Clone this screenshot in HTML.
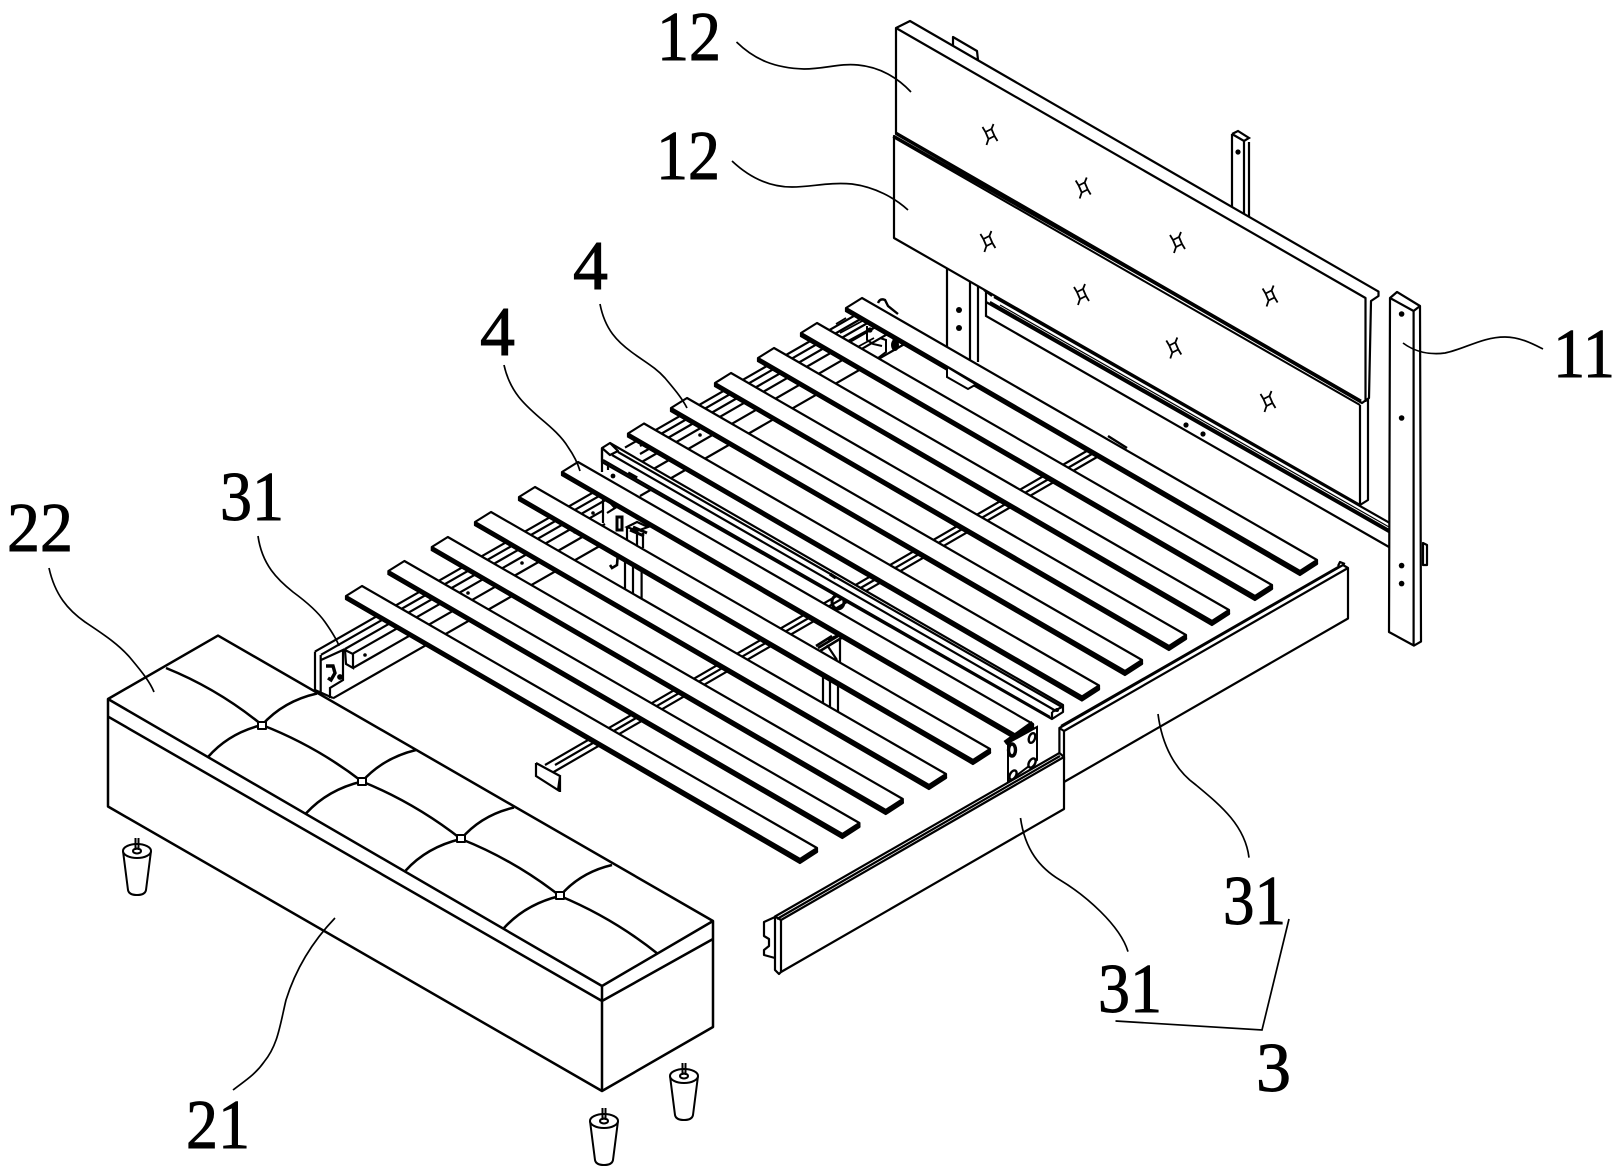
<!DOCTYPE html>
<html><head><meta charset="utf-8"><title>Bed exploded view</title>
<style>html,body{margin:0;padding:0;background:#fff}svg{display:block}
text{font-family:"Liberation Serif",serif;font-size:70px;fill:#000;stroke:#000;stroke-width:.9px}</style></head>
<body>
<svg width="1621" height="1175" viewBox="0 0 1621 1175" xmlns="http://www.w3.org/2000/svg">
<defs>
<g id="slat">
<path d="M0,0L455,262L455,266L438,277L-16,13L-16,10Z" fill="#fff" stroke="#000" stroke-width="2.2" stroke-linejoin="round"/>
<path d="M-16,11.5L438,274.5L455,263.5" fill="none" stroke="#000" stroke-width="4.8" stroke-linejoin="round"/>
</g>
<g id="star" fill="none" stroke="#000" stroke-width="1.8">
<path d="M-4,-2L2,-5L5,2L-1,5ZM-4,-2L-7,-7M2,-5L4,-10M5,2L8,7M-1,5L-3,11"/>
</g>
<g id="foot" fill="#fff" stroke="#000" stroke-width="2">
<path d="M-14,13L-9,52Q-8,57 0,57Q8,57 9,52L14,13"/>
<ellipse cx="0" cy="13" rx="14" ry="7"/>
<ellipse cx="0" cy="13" rx="4" ry="2.5"/>
<path d="M-1.5,0V12M1.5,0V12"/>
</g>
</defs>
<rect width="1621" height="1175" fill="#fff"/>

<!-- back rail and posts -->
<g fill="none" stroke="#000" stroke-width="2.2">
<path d="M994,297L1389,522.6M990,302L1389,530" />
<path d="M986,302L1389,532M986,302V316L1389,547"/>
<path d="M1000,305L1389,527" stroke-width="1.2"/>
<path d="M1232,134V225M1244,140V225M1249,142V225M1232,134L1238,131L1249,138L1244,141L1232,134"/>
<path d="M947,260V350M970,260V362M978,260V362M978,275L986,290V302M984,290L992,296"/>
</g>
<circle cx="1238" cy="152" r="2.6"/><circle cx="959" cy="310" r="3"/><circle cx="959" cy="328" r="3"/>
<circle cx="1186" cy="425" r="2.6"/><circle cx="1203" cy="434" r="2.6"/>

<!-- headboard -->
<g fill="#fff" stroke="#000" stroke-width="2.2" stroke-linejoin="round">
<path d="M953,37L977,51L978,60L953,50Z"/>
<path d="M894,136V238L1360,505L1368,500V396L1361,400Z"/>
<path d="M896,28L910,21L1378.5,291.6V296L1371,301L1369,398L1362,403L896,134Z"/>
<path d="M896,28L1365.5,298V402" fill="none"/>
<path d="M896,133L1361,401" fill="none" stroke-width="3"/>
<path d="M893,137L1360,405" fill="none" stroke-width="2"/>
<path d="M1360,405V504" fill="none"/>
</g>
<use href="#star" x="989.5" y="134"/><use href="#star" x="1082.7" y="187.5"/><use href="#star" x="1177" y="242"/><use href="#star" x="1269.6" y="295.5"/>
<use href="#star" x="987.4" y="241"/><use href="#star" x="1081" y="294"/><use href="#star" x="1173.3" y="347.5"/><use href="#star" x="1267.5" y="401"/>

<!-- longitudinal supports -->
<g fill="none" stroke="#000" stroke-width="2.2">
<!-- centre beam -->
<path d="M545,765L1104,441M545,777L1104,453"/>
<path d="M555,765L1104,447"/>
<path d="M536,763V776L558,790L560,776L536,763M560,776V792" fill="#fff"/>
<!-- front half of left rail -->
<path d="M315,651.6L603.5,486.6M321,654.8L609,490.4M345,649L616,494M353,653.6L603,510.6M353,668L605,524M333,698.3L605,543"/>
<!-- back half -->
<path d="M625,447.6L865,309.6M640,446L871,313M640,454L878,317M640,463L886,321M650,471L898,328M640,496L915,338"/>
<!-- block end -->
<path d="M345,650L353,654V668L346,664Z" fill="#fff"/>
<!-- left bracket -->
<path d="M315,651.6V690L333,698M320.7,655V696M321,660L343,650V680L330,688V698" fill="#fff"/>
<path d="M326,666H333L335,673L331,680L328,678" stroke-width="3.4"/>
<circle cx="340" cy="677" r="1.8" fill="#000"/>
<!-- centre-left bracket -->
<path d="M603,495V523M603,495L615,508M607,513L623,503"/>
<path d="M625,553V600M633,553V600M641.6,553V600"/>
<path d="M610,565L612,568L617,565L618,552" stroke-width="2.6"/>
<path d="M627,527V541M637,531V548M643,533V548M627,527L637,522L648,527L637,531Z"/>
<path d="M633,527L647,533M630,530L644,536" stroke-width="3"/>
<path d="M617,517H622V530H617Z" stroke-width="3"/>
<!-- centre-right bracket -->
<path d="M823,665V715M830,665V715M838,665V715"/>
<path d="M816,646L832,636M818,648L838,636M820,651L843,637M828,640L845,632" stroke-width="2.6"/>
<path d="M827,645L837,660M840,640V662"/>
<ellipse cx="838" cy="602" rx="6" ry="7" stroke-width="3"/>
</g>
<!-- back-left brackets -->
<g fill="none" stroke="#000" stroke-width="2">
<path d="M878,303Q880,298 885,300L888,306L898,314" stroke-width="2.4"/>
<path d="M867,326V340L873,344L882,346M880,338L886,340V352L878,358M892,336L896,345"/>
<path d="M836,324L846,318M840,333L866,319M846,342L868,330M852,350L874,338" stroke-width="1.8"/>
<circle cx="870" cy="330" r="1.6"/><ellipse cx="895" cy="345" rx="3" ry="5" fill="#000"/>
</g>

<!-- split centre bar -->
<g fill="#fff" stroke="#000" stroke-width="2.2" stroke-linejoin="round">
<path d="M602,448L610,443L1063,705V712L1052,719L602,462Z"/>
<path d="M602,448L610,455L618,451L610,443" fill="none"/>
<path d="M618,452L1062,707M612,455L1056,711M603,460L1050,717" fill="none"/>
<path d="M602,448V472M608,470V462" fill="none"/>
<path d="M1052,712V719M1052,712L1062,707" fill="none"/>
</g>
<path d="M628,473L637,478M830,574L836,578" stroke="#000" stroke-width="3.4"/>
<circle cx="613" cy="476" r="2.4"/><circle cx="1057" cy="710" r="2"/>

<!-- small dots -->
<circle cx="365" cy="655" r="1.8"/><circle cx="468" cy="593" r="1.8"/><circle cx="522" cy="563" r="1.8"/><circle cx="575" cy="532" r="1.8"/><circle cx="593" cy="513" r="1.8"/><circle cx="700" cy="435" r="1.8"/>

<!-- slats -->
<use href="#slat" x="362" y="586"/>
<use href="#slat" x="404.4" y="561"/>
<use href="#slat" x="447.8" y="537"/>
<use href="#slat" x="491" y="512"/>
<use href="#slat" x="535" y="487"/>
<use href="#slat" x="578" y="462"/>
<use href="#slat" x="644" y="423.5"/>
<use href="#slat" x="687" y="398"/>
<use href="#slat" x="731" y="373"/>
<use href="#slat" x="774" y="348"/>
<use href="#slat" x="817" y="323"/>
<use href="#slat" x="862" y="298"/>
<path d="M947,368V377L968,389L975,385" fill="#fff" stroke="#000" stroke-width="2"/>
<path d="M1108,436L1127,448" stroke="#000" stroke-width="2.4"/>

<!-- front plate -->
<path d="M1008,743L1037,727V760L1008,782Z" fill="#fff" stroke="#000" stroke-width="2"/>
<path d="M1005,743L1033,723" stroke="#000" stroke-width="5"/>
<g fill="#fff" stroke="#000" stroke-width="2.4">
<ellipse cx="1032" cy="738" rx="3" ry="5" transform="rotate(20 1032 738)"/>
<ellipse cx="1032" cy="763" rx="3" ry="5" transform="rotate(30 1032 763)"/>
<ellipse cx="1013" cy="775" rx="3" ry="5" transform="rotate(30 1013 775)"/>
<ellipse cx="1012" cy="750" rx="3.5" ry="6" stroke-width="3.4"/>
</g>

<!-- side rails -->
<g fill="#fff" stroke="#000" stroke-width="2.2" stroke-linejoin="round">
<path d="M1059.4,728L1343,565L1348,568V618.5L1064,782V790L1059.4,755Z"/>
<path d="M1064,731L1348,568M1064,731V760M1059.4,728L1064,731M1061,726L1340,566" fill="none"/>
<path d="M1338,566L1340,562L1345,564" fill="none"/>
<path d="M775,916.5L1059.4,753L1064,757V809L781,972L779,974L775,970Z"/>
<path d="M781,920L1064,757M781,920V972M775,916.5L781,920M777,919L1060,756" fill="none"/>
<path d="M775,917L764,922V936L769,939V946L764,950V955L775,958" fill="none"/>
</g>

<!-- post 11 -->
<g fill="#fff" stroke="#000" stroke-width="2.2" stroke-linejoin="round">
<path d="M1423,543L1427,545V565L1423,565Z"/>
<path d="M1390,298L1397,292L1420,306L1421,641.6L1414,645.6L1389,632Z"/>
<path d="M1390,298L1413.6,311L1420,306M1413.6,311V645" fill="none"/>
</g>
<circle cx="1401.6" cy="314" r="2.8"/><circle cx="1401.6" cy="418" r="2.8"/><circle cx="1401.6" cy="565.6" r="2.8"/><circle cx="1401.6" cy="583.6" r="2.8"/>

<!-- bench -->
<g fill="#fff" stroke="#000" stroke-width="2.5" stroke-linejoin="round">
<path d="M108,699L218,635.6L713,921V1027L602,1091L108,806.5Z"/>
<path d="M108,699L602,986L713,921M602,986V1091M108,716.6L602,1001L713,939" fill="none"/>
<path d="M166,668Q218,689 262,725Q316,746 362,781.5Q415,803 461,839Q514,860 560,896Q613,918 658,954" fill="none"/>
<path d="M317,693.5Q283.5,701 262,725Q229,733 208,757M416,750Q383,758 362,781.5Q328,789.5 306,813.4M514,807.5Q481.5,815 461,839Q427,847 405.6,870.6M612,865Q580,872.5 560,896Q526,904 504,928" fill="none"/>
<path d="M258,722H266V729H258ZM358,778H366V785H358ZM457,835H465V842H457ZM556,892H564V899H556Z" stroke-width="2"/>
</g>
<use href="#foot" x="137" y="838"/><use href="#foot" x="684" y="1063"/><use href="#foot" x="604" y="1108"/>

<!-- leaders -->
<g fill="none" stroke="#000" stroke-width="1.7">
<path d="M736.5,42C755,60 775,68 804,69C825,69 840,63 858,65C880,67 898,78 911,92"/>
<path d="M732,161C750,178 770,187 792,187C812,187 828,182 852,184C875,187 895,198 908,210"/>
<path d="M600,304C605,330 618,342 631.5,352C645,362 655,367 665,378C675,390 682,398 687,408"/>
<path d="M504,365C510,392 525,405 540,418C552,428 562,437 568,447C575,457 578,464 580,471"/>
<path d="M258,536C262,565 278,580 293,592C308,603 318,612 325,622C332,632 337,640 339,646"/>
<path d="M49,568C55,595 68,610 85,622C103,634 120,645 132,660C142,672 150,682 154,692"/>
<path d="M335,918C312,942 296,968 286,1000C280,1025 278,1045 264,1062C255,1075 243,1082 233,1090"/>
<path d="M1403,343C1415,352 1430,355 1445,353C1465,349 1482,337 1505,337C1520,337 1533,344 1543,349"/>
<path d="M1158,714C1162,745 1175,770 1196,785C1220,805 1245,825 1249,857.6"/>
<path d="M1020.5,818C1025,850 1040,868 1060,880C1085,895 1120,925 1128,951.6"/>
<path d="M1289,919L1262,1030L1115.5,1021"/>
</g>

<!-- labels -->
<text x="657" y="60" textLength="64" lengthAdjust="spacingAndGlyphs">12</text>
<text x="656" y="179" textLength="64" lengthAdjust="spacingAndGlyphs">12</text>
<text x="573" y="289">4</text>
<text x="480" y="355">4</text>
<text x="220" y="520" textLength="64" lengthAdjust="spacingAndGlyphs">31</text>
<text x="7" y="551" textLength="66" lengthAdjust="spacingAndGlyphs">22</text>
<text x="186" y="1148" textLength="64" lengthAdjust="spacingAndGlyphs">21</text>
<text x="1553" y="377" textLength="62" lengthAdjust="spacingAndGlyphs">11</text>
<text x="1223" y="924" textLength="63" lengthAdjust="spacingAndGlyphs">31</text>
<text x="1098" y="1012" textLength="64" lengthAdjust="spacingAndGlyphs">31</text>
<text x="1256" y="1091">3</text>
</svg>
</body></html>
